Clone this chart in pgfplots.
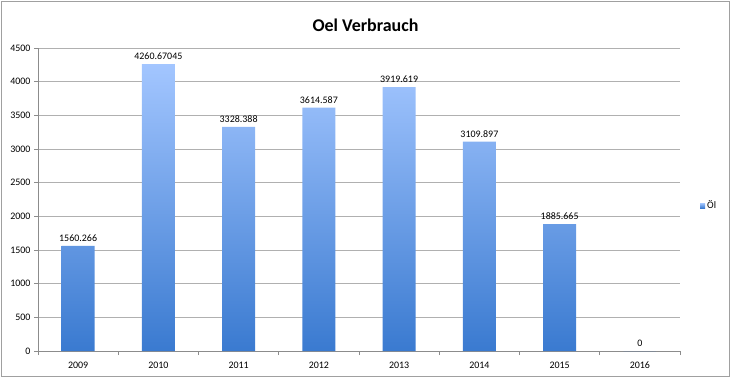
\documentclass[border=0pt]{standalone}
\usepackage{pgfplots}
\pgfplotsset{compat=1.18}
\usepackage{fontspec}
\setmainfont{Carlito}
\definecolor{bartop}{HTML}{A3C6FF}
\definecolor{barbot}{HTML}{3A7AD0}
\definecolor{gridc}{HTML}{B0B0B0}
\definecolor{axc}{HTML}{8C8C8C}
\definecolor{framec}{HTML}{A0A0A0}
\pgfplotstableread{
x y lab
0 1560.266 1560.266
1 4260.67045 4260.67045
2 3328.388 3328.388
3 3614.587 3614.587
4 3919.619 3919.619
5 3109.897 3109.897
6 1885.665 1885.665
7 0 0
}\oeldata
\begin{document}
\begin{tikzpicture}[x=1bp,y=1bp]
\path[use as bounding box] (0,0) rectangle (731,378);
\draw[framec, line width=0.8bp] (1.5,1.5) rectangle (729.5,376.5);
\node[font=\fontsize{18}{21}\selectfont\bfseries] at (365.5,353) {Oel Verbrauch};
\begin{axis}[
  at={(38bp,27bp)}, anchor=south west, scale only axis,
  width=642bp, height=303bp,
  xmin=-0.5, xmax=7.5, ymin=0, ymax=4500,
  axis lines*=left,
  axis line style={axc, line width=0.8bp},
  ytick={0,500,1000,1500,2000,2500,3000,3500,4000,4500},
  ymajorgrids, grid style={gridc, line width=0.8bp},
  tick align=outside, major tick length=4bp,
  tick style={axc, line width=0.8bp},
  xtick={-0.5,0.5,1.5,2.5,3.5,4.5,5.5,6.5,7.5},
  xticklabels={},
  extra x ticks={0,1,2,3,4,5,6,7},
  extra x tick labels={2009,2010,2011,2012,2013,2014,2015,2016},
  extra x tick style={major tick length=0pt},
  ticklabel style={font=\fontsize{10}{12}\selectfont},
  xticklabel style={anchor=north, text height=7bp, text depth=0pt, yshift=-7bp},
  /pgf/number format/assume math mode=true,
  yticklabel style={/pgf/number format/1000 sep={}},
  legend style={at={(1,0.48)}, anchor=west, xshift=20bp, draw=none, fill=none,
     font=\fontsize{10}{12}\selectfont, inner sep=0pt},
  legend image code/.code={\fill[barbot!80!bartop] (0bp,-2.5bp) rectangle (5bp,2.5bp);},
]
\addplot[ybar, bar width=33bp, draw=none, top color=bartop, bottom color=barbot,
  nodes near coords, point meta=explicit symbolic,
  nodes near coords style={font=\fontsize{10}{12}\selectfont, anchor=south, yshift=1bp}]
  table[x=x, y=y, meta=lab] {\oeldata};
\addlegendentry{Öl}
\end{axis}
\end{tikzpicture}
\end{document}
